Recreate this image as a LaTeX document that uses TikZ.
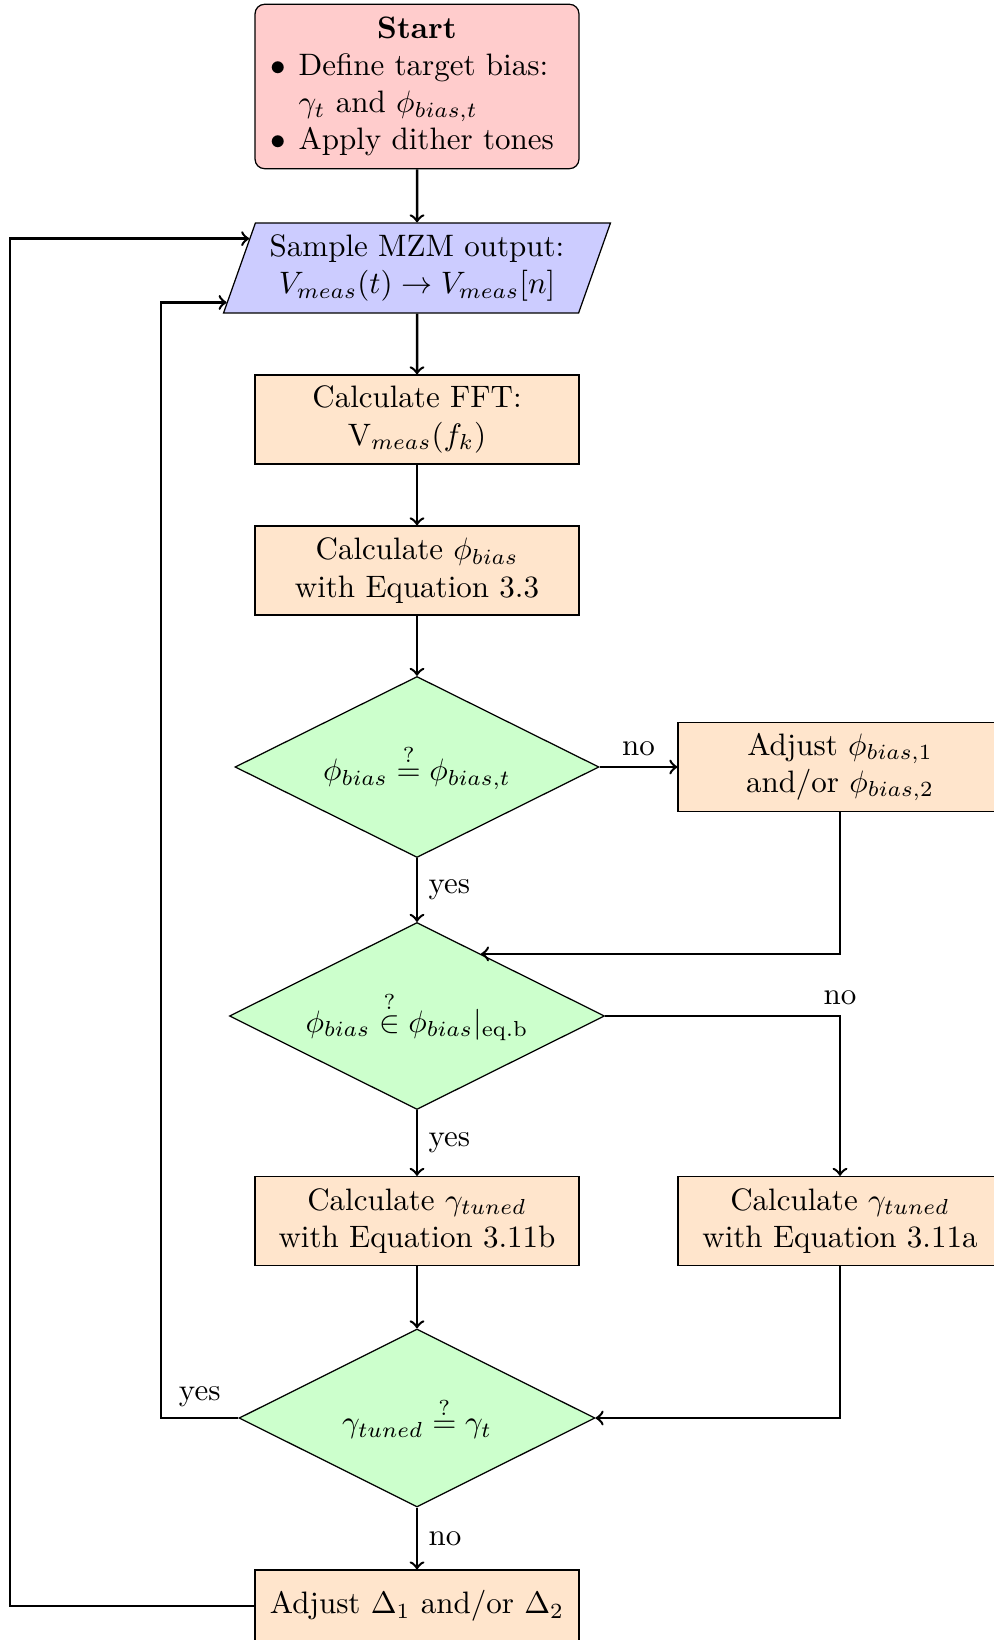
\documentclass[tikz,border=0pt]{standalone}
\usetikzlibrary{shapes.geometric,calc}
\begin{document}
\begin{tikzpicture}[x=0.32258pt,y=-0.32258pt,
  procbox/.style={draw, fill=orange!20, minimum width=104.5pt, minimum height=28.7pt, align=center, inner sep=3.33pt},
  startbox/.style={draw, fill=red!20, rounded corners=3pt, text width=97.8pt, minimum height=53pt, align=center, inner sep=3.33pt},
  iobox/.style={draw, fill=blue!20, trapezium, trapezium left angle=70, trapezium right angle=110, trapezium stretches body, minimum width=124.8pt, minimum height=29pt, align=center},
  decision/.style={draw, fill=green!20, diamond, aspect=2, inner sep=0pt},
  conn/.style={->, thick}
]
\useasboundingbox (0,0) rectangle (993,1640);

\node[startbox] (start) at (417,86.5) {\textbf{Start}\\
\makebox[97.8pt][l]{\hspace*{1.5pt}\makebox[9.2pt][l]{$\bullet$}Define target bias:}\\
\makebox[97.8pt][l]{\hspace*{10.7pt}$\gamma_t$ and $\phi_{bias,t}$}\\
\makebox[97.8pt][l]{\hspace*{1.5pt}\makebox[9.2pt][l]{$\bullet$}Apply dither tones}};

\node[iobox] (sample) at (417,268) {Sample MZM output:\\ $V_{meas}(t) \rightarrow V_{meas}[n]$};
\node[procbox] (fft) at (417,419.5) {Calculate FFT:\\ V$_{meas}(f_k)$};
\node[procbox] (calcphi) at (417,570.5) {Calculate $\phi_{bias}$\\ with Equation 3.3};
\node[decision, minimum width=117.4pt, minimum height=58.4pt] (d1) at (417,767) {$\phi_{bias} \stackrel{?}{=} \phi_{bias,t}$};
\node[procbox] (adjphi) at (840,767) {Adjust $\phi_{bias,1}$\\ and/or $\phi_{bias,2}$};
\node[decision, minimum width=121pt, minimum height=60.3pt] (d2) at (417,1016) {$\phi_{bias} \stackrel{?}{\in} \phi_{bias}|_{\mathrm{eq.b}}$};
\node[procbox] (calcb) at (417,1221) {Calculate $\gamma_{tuned}$\\ with Equation 3.11b};
\node[procbox] (calca) at (840,1221) {Calculate $\gamma_{tuned}$\\ with Equation 3.11a};
\node[decision, minimum width=114.8pt, minimum height=57.4pt] (d3) at (417,1418) {$\gamma_{tuned} \stackrel{?}{=} \gamma_t$};
\node[procbox, minimum height=23.2pt] (adjdelta) at (417,1606) {Adjust $\Delta_1$ and/or $\Delta_2$};

\coordinate (d2in) at ($(d2.north)!0.34!(d2.east)$);
\coordinate (sin1) at ($(sample.top left corner)!0.178!(sample.bottom left corner)$);
\coordinate (sin2) at ($(sample.top left corner)!0.878!(sample.bottom left corner)$);
\coordinate (c1) at (161,1418);
\coordinate (c2) at (10,1606);

\draw[conn] (start) -- (sample);
\draw[conn] (sample) -- (fft);
\draw[conn] (fft) -- (calcphi);
\draw[conn] (calcphi) -- (d1);
\draw[conn] (d1) -- node[above]{no} (adjphi);
\draw[conn] (d1) -- node[right]{yes} (d2);
\draw[conn] (adjphi.south) |- (d2in);
\draw[conn] (d2.east) -| node[pos=0.5, above]{no} (calca.north);
\draw[conn] (d2) -- node[right]{yes} (calcb);
\draw[conn] (calcb) -- (d3);
\draw[conn] (calca.south) |- (d3.east);
\draw[conn] (d3) -- node[right]{no} (adjdelta);
\draw[conn] (d3.west) -- node[above]{yes} (c1) |- (sin2);
\draw[conn] (adjdelta.west) -- (c2) |- (sin1);
\end{tikzpicture}
\end{document}
